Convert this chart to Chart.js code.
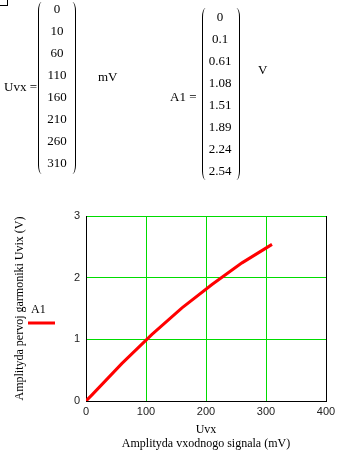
<!DOCTYPE html>
<html>
<head>
<meta charset="utf-8">
<script src="https://cdn.jsdelivr.net/npm/chart.js@4"></script>
<style>
  html, body { margin: 0; padding: 0; background: #fff; }
  #wrap { position: relative; width: 352px; height: 453px; overflow: hidden; font-family: "Liberation Serif", "Times New Roman", serif; font-size: 13px; color: #000; }
  #c { position: absolute; left: 0; top: 0; }
  .t { position: absolute; white-space: nowrap; line-height: 14px; }
  .cell { position: absolute; transform: translate(-50%, -50%); white-space: nowrap; line-height: 14px; }
  .pl { position: absolute; width: 6px; border-left: 1px solid #000; border-radius: 6px / 16px; }
  .pr { position: absolute; width: 6px; border-right: 1px solid #000; border-radius: 6px / 16px; }
  .corner { position: absolute; left: 0; top: 0; width: 7px; height: 5px; border-right: 1px solid #000; border-bottom: 1px solid #000; }
</style>
</head>
<body>
<div id="wrap">
  <canvas id="c" width="352" height="453"></canvas>
  <div class="corner"></div>
  <div id="mats"></div>
</div>
<script>
// ---- data ----
const uvx = [0, 10, 60, 110, 160, 210, 260, 310];          // mV
const a1  = [0, 0.1, 0.61, 1.08, 1.51, 1.89, 2.24, 2.54];  // V
const xTicks = [0, 100, 200, 300, 400];
const yTicks = [0, 1, 2, 3];
const seriesLabel = 'A1';
const xTitle = ['Uvx', 'Amplityda vxodnogo signala (mV)'];
const yTitle = 'Amplityda pervoj garmoniki Uvix (V)';

// ---- matrices (HTML text) ----
function matrix(parent, name, unit, values, o) {
  const add = (cls, text, x, y, extra) => {
    const d = document.createElement('div');
    d.className = cls;
    if (text !== null) d.textContent = text;
    d.style.left = x + 'px'; d.style.top = y + 'px';
    if (extra) Object.assign(d.style, extra);
    parent.appendChild(d);
    return d;
  };
  add('t', name, o.nameX, o.nameY);
  add('pl', null, o.lx, o.top, { height: o.h + 'px' });
  add('pr', null, o.rx, o.top, { height: o.h + 'px' });
  values.forEach((v, i) => add('cell', String(v), o.cx, o.y0 + i * 22));
  add('t', unit, o.unitX, o.unitY);
}
const mats = document.getElementById('mats');
matrix(mats, 'Uvx =', 'mV', uvx, { nameX: 4, nameY: 80, lx: 38, rx: 69, top: 2, h: 172, cx: 57, y0: 9, unitX: 98, unitY: 70 });
matrix(mats, 'A1 =', 'V', a1, { nameX: 170, nameY: 90, lx: 202, rx: 233, top: 8, h: 172, cx: 220, y0: 17, unitX: 258, unitY: 63 });

// ---- chart ----
const green = 'rgb(0,220,0)';
const legendPlugin = {
  id: 'mlegend',
  afterDraw(chart) {
    const ctx = chart.ctx;
    const ds = chart.data.datasets[0];
    ctx.save();
    ctx.fillStyle = '#000';
    ctx.font = '12px "Liberation Serif"';
    ctx.textBaseline = 'middle';
    ctx.textAlign = 'left';
    ctx.fillText(ds.label, 31, 310);
    ctx.strokeStyle = ds.borderColor;
    ctx.lineWidth = 3;
    ctx.beginPath();
    ctx.moveTo(28, 323);
    ctx.lineTo(55, 323);
    ctx.stroke();
    ctx.restore();
  }
};

new Chart(document.getElementById('c'), {
  type: 'line',
  data: {
    datasets: [{
      label: seriesLabel,
      data: uvx.map((x, i) => ({ x: x, y: a1[i] })),
      borderColor: 'rgb(255,0,0)',
      borderWidth: 3,
      pointRadius: 0,
      tension: 0,
      fill: false
    }]
  },
  plugins: [legendPlugin],
  options: {
    responsive: false,
    animation: false,
    layout: { padding: { left: 0, top: 216, right: 26, bottom: 0 } },
    plugins: { legend: { display: false }, tooltip: { enabled: false } },
    scales: {
      x: {
        type: 'linear', min: 0, max: 400,
        afterBuildTicks: s => { s.ticks = xTicks.map(v => ({ value: v })); },
        afterFit: s => { s.height = 52; },
        border: { color: '#000', width: 1 },
        grid: {
          drawTicks: false, lineWidth: 1,
          color: c => c.tick.value === 400 ? '#000' : (c.tick.value === 0 ? 'rgba(0,0,0,0)' : green)
        },
        ticks: { padding: 4, color: '#222', font: { family: 'Liberation Sans', size: 11 }, maxRotation: 0 },
        title: { display: true, text: xTitle, color: '#000', padding: 3, font: { family: 'Liberation Serif', size: 12, lineHeight: 1.1 } }
      },
      y: {
        type: 'linear', min: 0, max: 3,
        afterBuildTicks: s => { s.ticks = yTicks.map(v => ({ value: v })); },
        afterFit: s => { s.width = 86; },
        border: { color: '#000', width: 1 },
        grid: {
          drawTicks: false, lineWidth: 1,
          color: c => c.tick.value === 0 ? 'rgba(0,0,0,0)' : green
        },
        ticks: { padding: 6, color: '#222', font: { family: 'Liberation Sans', size: 11 } },
        title: { display: true, text: yTitle, color: '#000', padding: { top: 13, bottom: 0 }, font: { family: 'Liberation Serif', size: 12, lineHeight: 1.2 } }
      }
    }
  }
});
</script>
</body>
</html>
